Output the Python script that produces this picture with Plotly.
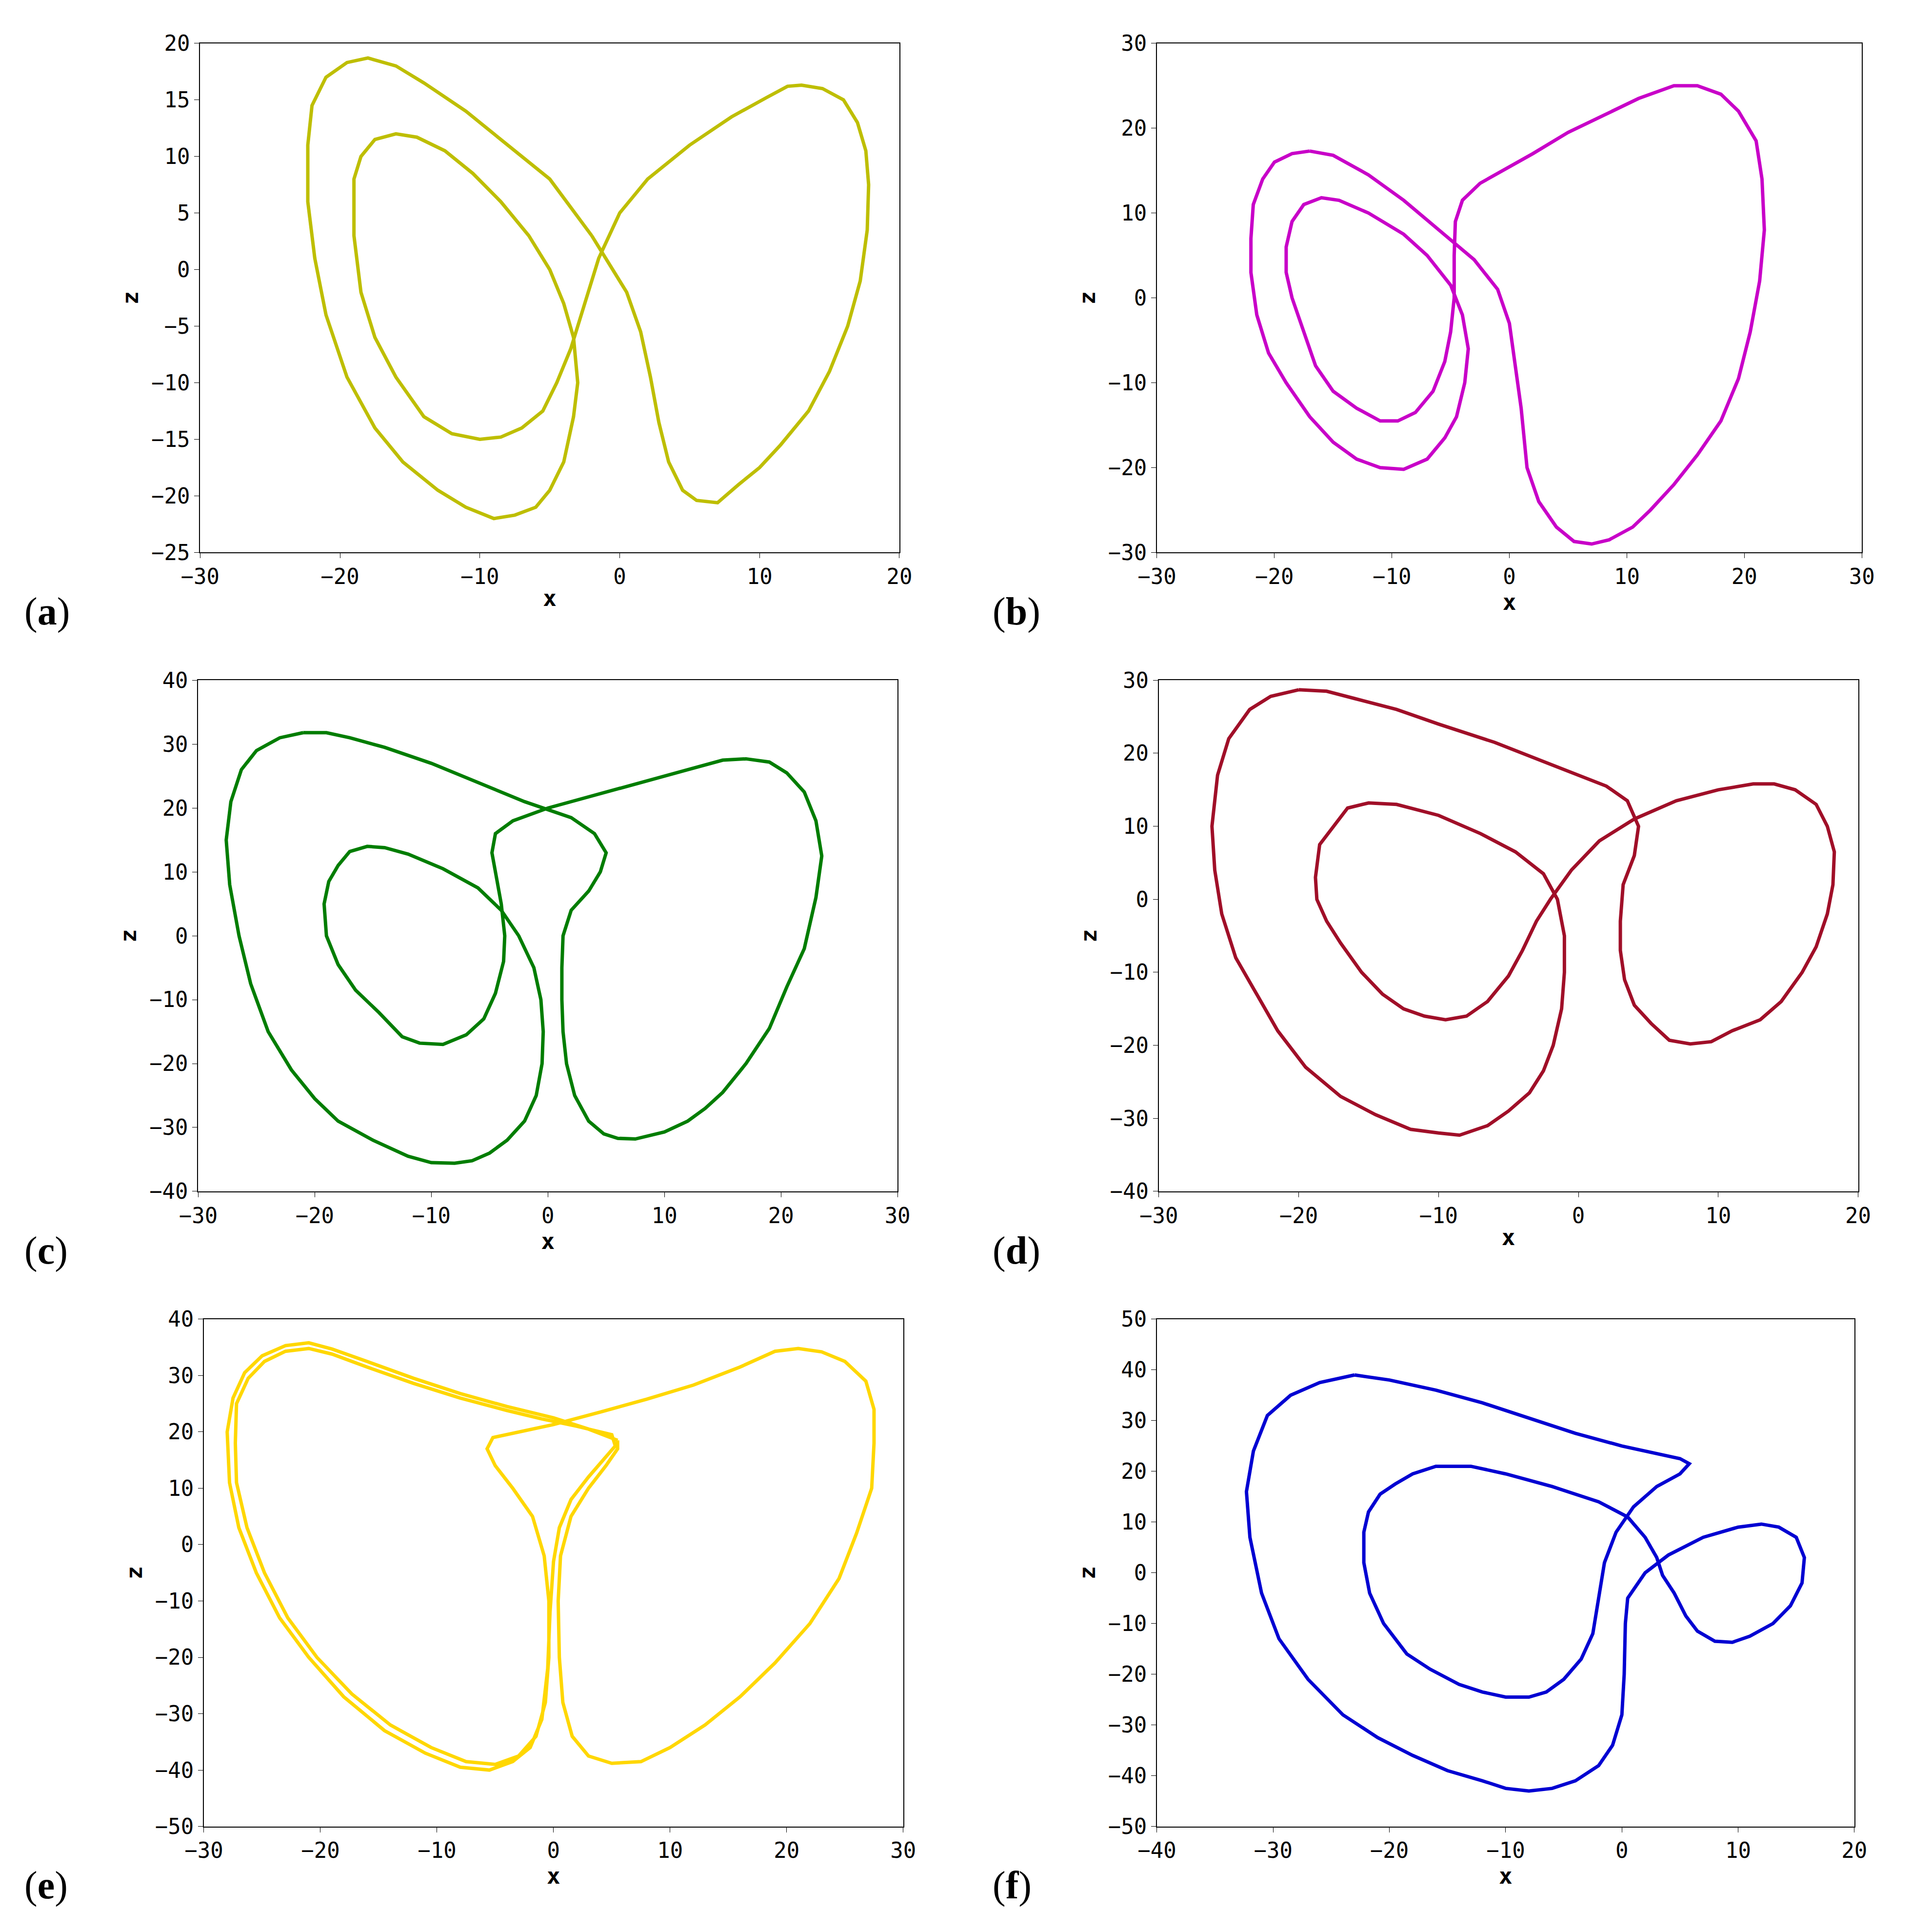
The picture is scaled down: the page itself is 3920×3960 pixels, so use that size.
import plotly.graph_objects as go

# panel (a)
a_x = [-2, -5, -8, -11, -14, -16, -18, -19.5, -21, -22, -22.3, -22.3, -21.8, -21, -19.5, -17.5, -15.5, -13, -11, -9, -7.5, -6, -5, -4, -3.3, -3, -3.3, -4, -5, -6.5, -8.5, -10.5, -12.5, -14.5, -16, -17.5, -18.5, -19, -19, -18.5, -17.5, -16, -14, -12, -10, -8.5, -7, -5.5, -4.5, -3.5, -2.5, -1.5, 0, 2, 5, 8, 10.5, 12, 13, 14.5, 16, 17, 17.6, 17.8, 17.7, 17.2, 16.3, 15, 13.5, 11.5, 10, 8.5, 7, 5.5, 4.5, 3.5, 2.8, 2.2, 1.5, 0.5, -1, -2]
a_z = [3, 8, 11, 14, 16.5, 18, 18.7, 18.3, 17, 14.5, 11, 6, 1, -4, -9.5, -14, -17, -19.5, -21, -22, -21.7, -21, -19.5, -17, -13, -10, -6, -3, 0, 3, 6, 8.5, 10.5, 11.7, 12, 11.5, 10, 8, 3, -2, -6, -9.5, -13, -14.5, -15, -14.8, -14, -12.5, -10, -7, -3, 1, 5, 8, 11, 13.5, 15.2, 16.2, 16.3, 16, 15, 13, 10.5, 7.5, 3.5, -1, -5, -9, -12.5, -15.5, -17.5, -19, -20.6, -20.4, -19.5, -17, -13.5, -9.5, -5.5, -2, 1, 3]

# panel (b)
b_x = [-17, -15, -12, -9, -6, -3, -1, 0, 0.5, 1, 1.5, 2.5, 4, 5.5, 7, 8.5, 10.5, 12, 14, 16, 18, 19.5, 20.5, 21.3, 21.7, 21.5, 21, 19.5, 18, 16, 14, 11, 8, 5, 2, -0.5, -2.5, -4, -4.6, -4.7, -4.7, -5, -5.5, -6.5, -8, -9.5, -11, -13, -15, -16.5, -17.5, -18.5, -19, -19, -18.5, -17.5, -16, -14.5, -12, -9, -7, -5, -4, -3.5, -3.8, -4.5, -5.5, -7, -9, -11, -13, -15, -17, -19, -20.5, -21.5, -22, -22, -21.8, -21, -20, -18.5, -17]
b_z = [17.3, 16.8, 14.5, 11.5, 8, 4.5, 1, -3, -8, -13, -20, -24, -27, -28.7, -29, -28.5, -27, -25, -22, -18.5, -14.5, -9.5, -4, 2, 8, 14, 18.5, 22, 24, 25, 25, 23.5, 21.5, 19.5, 17, 15, 13.5, 11.5, 9, 5, 0, -4, -7.5, -11, -13.5, -14.5, -14.5, -13, -11, -8, -4, 0, 3, 6, 9, 11, 11.8, 11.5, 10, 7.5, 5, 1.5, -2, -6, -10, -14, -16.5, -19, -20.2, -20, -19, -17, -14, -10, -6.5, -2, 3, 7, 11, 14, 16, 17, 17.3]

# panel (c)
c_x = [-21, -19, -17, -14, -10, -6, -2, 2, 4, 5, 4.5, 3.5, 2, 1.3, 1.2, 1.2, 1.3, 1.6, 2.3, 3.5, 4.8, 6, 7.5, 10, 12, 13.5, 15, 17, 19, 20.5, 22, 23, 23.5, 23, 22, 20.5, 19, 17, 15, 12, 8, 4, 0, -3, -4.5, -4.8, -4.5, -4, -3.7, -3.8, -4.5, -5.5, -7, -9, -11, -12.5, -14.5, -16.5, -18, -19, -19.2, -18.8, -18, -17, -15.5, -14, -12, -9, -6, -4, -2.5, -1.2, -0.6, -0.4, -0.5, -1, -2, -3.5, -5, -6.5, -8, -10, -12, -15, -18, -20, -22, -24, -25.5, -26.5, -27.3, -27.6, -27.2, -26.3, -25, -23, -21]
c_z = [31.8, 31.8, 31, 29.5, 27, 24, 21, 18.5, 16, 13, 10, 7, 4, 0, -5, -10, -15, -20, -25, -29, -31, -31.7, -31.8, -30.7, -29, -27, -24.5, -20, -14.5, -8, -2, 6, 12.5, 18, 22.5, 25.5, 27.2, 27.7, 27.5, 26, 24, 22, 20, 18, 16, 13, 10, 5, 0, -4, -9, -13, -15.5, -17, -16.8, -15.8, -12, -8.5, -4.5, 0, 5, 8.5, 11, 13.2, 14, 13.8, 12.8, 10.5, 7.5, 4, 0, -5, -10, -15, -20, -25, -29, -32, -34, -35.2, -35.6, -35.5, -34.5, -32, -29, -25.5, -21, -15, -7.5, 0, 8, 15, 21, 26, 29, 31, 31.8]

# panel (d)
d_x = [-20, -18, -16, -13, -10, -6, -2, 2, 3.5, 4.3, 4, 3.2, 3, 3, 3.3, 4, 5.2, 6.5, 8, 9.5, 11, 13, 14.5, 16, 17, 17.8, 18.2, 18.3, 17.8, 17, 15.5, 14, 12.5, 10, 7, 4, 1.5, -0.5, -2, -3, -4, -5, -6.5, -8, -9.5, -11, -12.5, -14, -15.5, -17, -18, -18.7, -18.8, -18.5, -17.5, -16.5, -15, -13, -10, -7, -4.5, -2.5, -1.5, -1, -1, -1.2, -1.8, -2.5, -3.5, -5, -6.5, -8.5, -10, -12, -14.5, -17, -19.5, -21.5, -23, -24.5, -25.5, -26, -26.2, -25.8, -25, -23.5, -22, -20]
d_z = [28.7, 28.5, 27.5, 26, 24, 21.5, 18.5, 15.5, 13.5, 10, 6, 2, -3, -7, -11, -14.5, -17, -19.3, -19.8, -19.5, -18, -16.5, -14, -10, -6.5, -2, 2, 6.5, 10, 13, 15, 15.8, 15.8, 15, 13.5, 11, 8, 4, 0, -3, -7, -10.5, -14, -16, -16.5, -16, -15, -13, -10, -6, -3, 0, 3, 7.5, 10, 12.5, 13.2, 13, 11.5, 9, 6.5, 3.5, 0, -5, -10, -15, -20, -23.5, -26.5, -29, -31, -32.3, -32, -31.5, -29.5, -27, -23, -18, -13, -8, -2, 4, 10, 17, 22, 26, 27.8, 28.7]

# panel (e)
e_x = [5.5, 3, 0, -4, -8, -12, -16, -19, -21, -23, -25, -26.5, -27.5, -28, -27.8, -27, -25.5, -23.5, -21, -18, -14.5, -11, -8, -5.5, -3.5, -2, -1, -0.5, -0.3, 0, 0.5, 1.5, 3, 4.5, 5.3, 5, 2, -1,
       -4, -8, -12, -16, -19, -21, -23, -24.8, -26.2, -27.2, -27.3, -27.2, -26.3, -24.8, -22.8, -20.3, -17.3, -14, -10.5, -7.5, -5, -3, -1.5, -0.7, -0.4, -0.4, -0.8, -1.8, -3.5, -5, -5.7, -5.2, -3, 0,
       4, 8, 12, 16, 19, 21, 23, 25, 26.8, 27.5, 27.5, 27.3, 26, 24.5, 22, 19, 16, 13, 10, 7.5, 5, 3, 1.6, 0.8, 0.5, 0.4, 0.6, 1.5, 3, 4.5, 5.5, 5.5]
e_z = [18.5, 20.5, 22.5, 24.5, 26.8, 29.5, 32.5, 34.7, 35.8, 35.3, 33.5, 30.5, 26, 20, 11, 3, -5, -13, -20, -27, -33, -37, -39.5, -40, -38.5, -36, -31, -22, -12, -3, 3, 8, 12, 15.5, 17.5, 19.5, 21, 22.3,
       23.8, 26, 28.6, 31.5, 33.8, 34.8, 34.3, 32.5, 29.5, 25, 18, 11, 3, -5, -13, -20, -26.5, -32, -36, -38.5, -39, -37.5, -34, -28, -20, -10, -2, 5, 10, 14, 17, 19, 20, 21.3,
       23.5, 25.8, 28.3, 31.5, 34.3, 34.8, 34.2, 32.5, 29, 24, 18, 10, 2, -6, -14, -21, -27, -32, -36, -38.5, -38.8, -37.5, -34, -28, -20, -10, -2, 5, 10, 14, 17, 18.5]

# panel (f)
f_x = [-23, -20, -16, -12, -8, -4, 0, 3, 5, 5.8, 5, 3, 1, -0.5, -1.5, -2, -2.5, -3.5, -5, -6.5, -8, -10, -12, -14, -16.5, -18.5, -20.5, -21.7, -22.2, -22.2, -21.8, -20.8, -19.5, -18, -16, -13, -10, -6, -2, 0.5, 2, 3, 3.5, 4.5, 5.5, 6.5, 8, 9.5, 11, 13, 14.5, 15.5, 15.7, 15, 13.5, 12, 10, 7, 4, 2, 0.5, 0.3, 0.2, 0, -0.8, -2, -4, -6, -8, -10, -12, -15, -18, -21, -24, -27, -29.5, -31, -32, -32.3, -31.7, -30.5, -28.5, -26, -23]
f_z = [39, 38, 36, 33.5, 30.5, 27.5, 25, 23.5, 22.5, 21.5, 19.5, 17, 13, 8, 2, -5, -12, -17, -21, -23.5, -24.5, -24.5, -23.5, -22, -19, -16, -10, -4, 2, 8, 12, 15.5, 17.5, 19.5, 21, 21, 19.5, 17, 14, 11, 7, 3, -0.5, -4, -8.5, -11.5, -13.5, -13.7, -12.5, -10, -6.5, -2, 3, 7, 9, 9.6, 9, 7, 3.5, 0, -5, -10, -20, -28, -34, -38, -41, -42.5, -43, -42.5, -41, -39, -36, -32.5, -28, -21, -13, -4, 7, 16, 24, 31, 35, 37.5, 39]

panels = [
    ("a", a_x, a_z, "rgb(190,190,0)", [-30, 20], [-25, 20], 5, [0.094, 0.466], [0.719, 0.986]),
    ("b", b_x, b_z, "rgb(200,0,200)", [-30, 30], [-30, 30], 10, [0.603, 0.978], [0.719, 0.986]),
    ("c", c_x, c_z, "rgb(0,125,0)", [-30, 30], [-40, 40], 10, [0.093, 0.465], [0.384, 0.652]),
    ("d", d_x, d_z, "rgb(160,15,40)", [-30, 20], [-40, 30], 10, [0.604, 0.976], [0.384, 0.652]),
    ("e", e_x, e_z, "rgb(255,215,0)", [-30, 30], [-50, 40], 10, [0.096, 0.468], [0.051, 0.317]),
    ("f", f_x, f_z, "rgb(0,0,210)", [-40, 20], [-50, 50], 10, [0.603, 0.974], [0.051, 0.317]),
]

fig = go.Figure()
tickfont = dict(family="DejaVu Sans Mono", size=44, color="black")
titlefont = dict(family="DejaVu Sans Mono", size=46, color="black")
for i, (lab, xs, zs, col, xr, yr, dy, xd, yd) in enumerate(panels):
    n = "" if i == 0 else str(i + 1)
    fig.add_trace(go.Scatter(x=xs, y=zs, mode="lines", line=dict(color=col, width=7),
                             xaxis="x" + n, yaxis="y" + n, showlegend=False))
    ax = dict(showline=True, linecolor="black", linewidth=2, mirror=True, ticks="outside",
              ticklen=10, tickcolor="black", showgrid=False, zeroline=False, tickfont=tickfont)
    fig.layout["xaxis" + n] = dict(ax, domain=xd, range=xr, dtick=10, anchor="y" + n,
                                   title=dict(text="<b>x</b>", font=titlefont, standoff=4))
    fig.layout["yaxis" + n] = dict(ax, domain=yd, range=yr, dtick=dy, anchor="x" + n,
                                   title=dict(text="<b>z</b>", font=titlefont, standoff=12))
    fig.add_annotation(text="(<b>%s</b>)" % lab, xref="paper", yref="paper",
                       x=0.0 if xd[0] < 0.5 else 0.515, y=yd[0] - 0.031, xanchor="left", yanchor="middle",
                       showarrow=False, font=dict(family="Liberation Serif", size=80, color="black"))

fig.update_layout(width=3920, height=3960, margin=dict(l=0, r=0, t=0, b=0),
                  plot_bgcolor="white", paper_bgcolor="white")
fig.write_html("out.html")
